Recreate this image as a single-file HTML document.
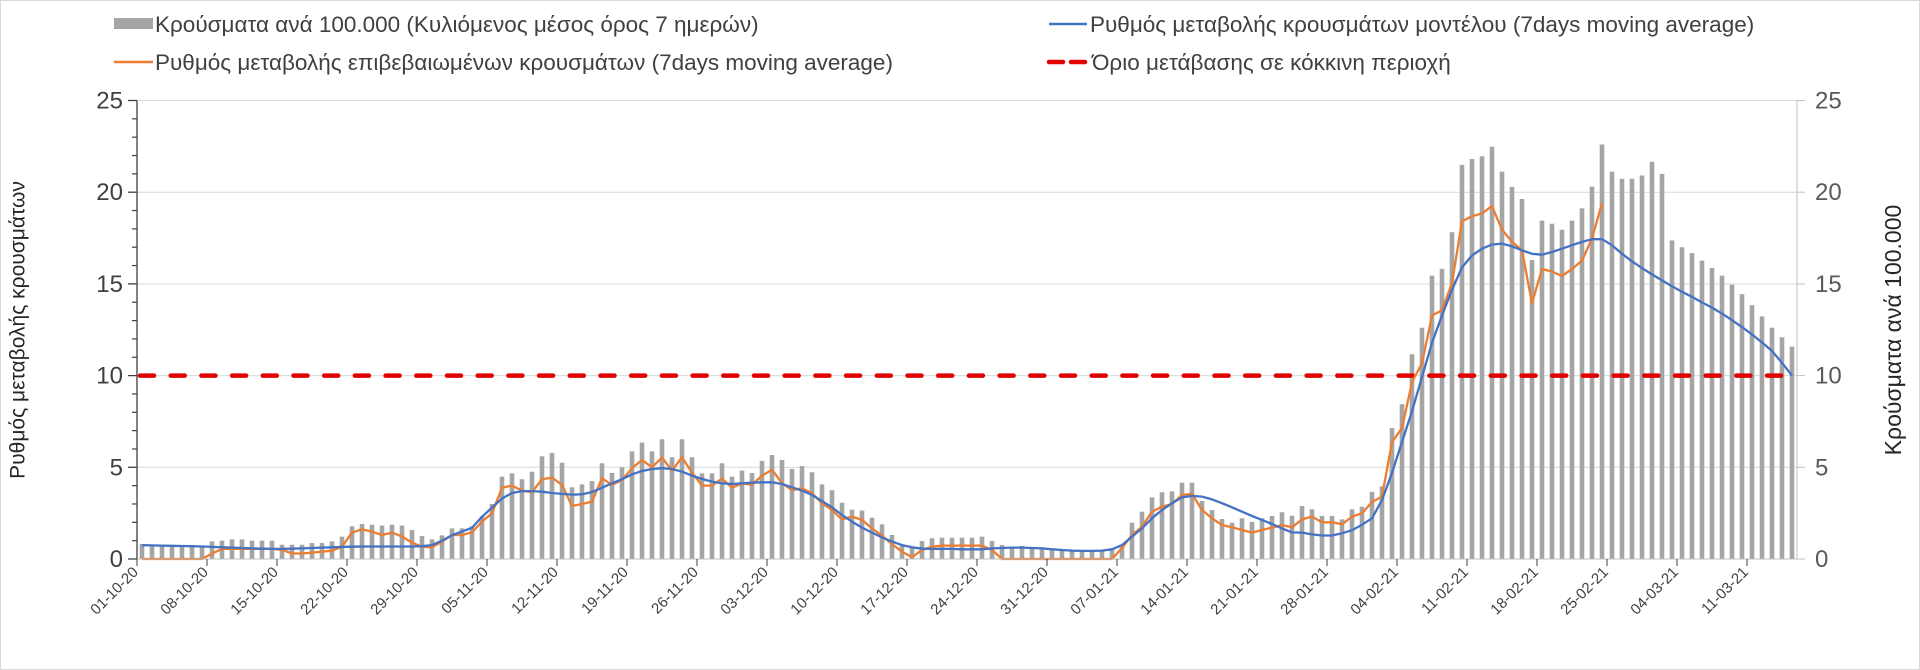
<!DOCTYPE html>
<html><head><meta charset="utf-8"><style>
html,body{margin:0;padding:0;background:#fff;}
svg{display:block;font-family:"Liberation Sans",sans-serif;}
</style></head><body>
<svg id="chart" width="1920" height="670" viewBox="0 0 1920 670" xmlns="http://www.w3.org/2000/svg">
<rect x="0.5" y="0.5" width="1919" height="669" fill="#fff" stroke="#d9d9d9"/>
<g id="grid"></g>
<g id="bars"></g>
<g id="lines"></g>
<g id="axes"></g>
<text x="18" y="330" transform="rotate(-90 18 330)" text-anchor="middle" dominant-baseline="central" font-size="21" fill="#262626">Ρυθμός μεταβολής κρουσμάτων</text>
<text x="1893" y="330" transform="rotate(-90 1893 330)" text-anchor="middle" dominant-baseline="central" font-size="23" fill="#262626">Κρούσματα ανά 100.000</text>
<g font-size="22.5" fill="#404040">
 <g><rect x="114" y="18" width="39" height="11" fill="#a5a5a5"/><text x="155" y="32" fill="#404040">Κρούσματα ανά 100.000 (Κυλιόμενος μέσος όρος 7 ημερών)</text></g>
 <g><line x1="114" y1="62" x2="153" y2="62" stroke="#ed7d31" stroke-width="2.5"/><text x="155" y="70" fill="#404040">Ρυθμός μεταβολής επιβεβαιωμένων κρουσμάτων (7days moving average)</text></g>
 <g><line x1="1049" y1="24" x2="1087" y2="24" stroke="#4472c4" stroke-width="2.5"/><text x="1090" y="32" fill="#404040">Ρυθμός μεταβολής κρουσμάτων μοντέλου (7days moving average)</text></g>
 <g><line x1="1049" y1="62" x2="1087" y2="62" stroke="#e00000" stroke-width="4.5" stroke-dasharray="14 8" stroke-linecap="round"/><text x="1092" y="70" fill="#404040">Όριο μετάβασης σε κόκκινη περιοχή</text></g>
</g>
</svg>
<script>
const dateLabels = ["01-10-20","08-10-20","15-10-20","22-10-20","29-10-20","05-11-20","12-11-20","19-11-20","26-11-20","03-12-20","10-12-20","17-12-20","24-12-20","31-12-20","07-01-21","14-01-21","21-01-21","28-01-21","04-02-21","11-02-21","18-02-21","25-02-21","04-03-21","11-03-21"];
const yTicks = [0,5,10,15,20,25];
const threshold = 10;
const cases = [0.82,0.76,0.76,0.76,0.76,0.73,0.73,0.96,1.0,1.07,1.07,1.0,1.0,1.0,0.78,0.78,0.78,0.87,0.87,0.96,1.22,1.78,1.91,1.87,1.82,1.87,1.82,1.58,1.25,1.07,1.29,1.67,1.67,1.78,2.33,3.0,4.49,4.67,4.35,4.76,5.6,
5.78,5.25,3.91,4.07,4.25,5.22,4.69,5.0,5.87,6.35,5.87,6.53,5.55,6.53,5.55,4.67,4.67,5.22,4.49,4.82,4.69,5.35,5.67,5.4,4.91,5.07,4.73,4.07,3.75,3.07,2.69,2.64,2.25,1.89,1.31,0.76,0.67,0.98,1.13,1.16,1.16,
1.16,1.16,1.22,0.98,0.76,0.67,0.71,0.64,0.64,0.53,0.49,0.49,0.49,0.45,0.49,0.58,0.76,1.98,2.58,3.36,3.64,3.69,4.16,4.16,3.16,2.67,2.18,1.98,2.22,2.02,2.22,2.35,2.55,2.36,2.89,2.71,2.35,2.35,2.16,2.71,2.85,
3.66,3.96,7.14,8.44,11.16,12.61,15.45,15.82,17.82,21.49,21.81,21.96,22.48,21.12,20.29,19.63,16.3,18.45,18.28,17.95,18.45,19.12,20.3,22.6,21.12,20.73,20.73,20.91,21.66,21.0,17.37,17.0,16.68,16.27,15.87,15.45,14.96,14.44,13.84,13.23,12.61,12.09,11.58];
const confirmedRate = [0,0,0,0,0,0,0,0.3,0.55,0.55,0.55,0.55,0.55,0.55,0.5,0.3,0.3,0.35,0.4,0.45,0.67,1.44,1.62,1.49,1.31,1.44,1.22,0.89,0.67,0.64,0.95,1.31,1.31,1.45,2.04,2.49,3.89,4.0,3.73,3.64,4.35,
4.44,4.04,2.89,3.0,3.13,4.4,4.04,4.31,4.95,5.4,5.0,5.53,4.82,5.55,4.71,4.0,4.0,4.38,3.89,4.13,4.04,4.55,4.87,4.13,3.76,3.85,3.58,3.04,2.67,2.16,2.31,2.13,1.67,1.27,0.82,0.4,0.1,0.49,0.67,0.73,0.73,
0.73,0.73,0.73,0.49,0,0,0,0,0,0,0,0,0,0,0,0,0.6,1.31,1.76,2.58,2.85,3.0,3.49,3.55,2.67,2.22,1.85,1.73,1.58,1.44,1.58,1.71,1.85,1.73,2.16,2.31,2.0,2.0,1.89,2.31,2.49,
3.11,3.4,6.38,7.13,9.65,10.67,13.28,13.56,15.05,18.41,18.69,18.84,19.25,17.95,17.3,16.83,13.95,15.81,15.67,15.43,15.81,16.27,17.48,19.4];
const modelRate = [0.75,0.74,0.73,0.72,0.71,0.7,0.68,0.66,0.64,0.62,0.6,0.58,0.56,0.55,0.55,0.56,0.58,0.6,0.62,0.64,0.66,0.67,0.68,0.68,0.68,0.68,0.68,0.68,0.7,0.76,1.0,1.3,1.5,1.7,2.3,2.8,3.3,3.6,3.7,3.7,3.67,
3.6,3.55,3.51,3.53,3.65,3.89,4.13,4.35,4.62,4.8,4.91,4.95,4.91,4.76,4.55,4.36,4.22,4.13,4.09,4.13,4.16,4.18,4.18,4.09,3.91,3.73,3.49,3.16,2.82,2.4,2.04,1.71,1.44,1.18,0.95,0.76,0.64,0.56,0.55,0.55,0.55,
0.53,0.53,0.53,0.58,0.6,0.62,0.62,0.6,0.58,0.53,0.49,0.46,0.44,0.44,0.46,0.53,0.76,1.22,1.67,2.22,2.67,3.04,3.36,3.44,3.4,3.25,3.04,2.82,2.58,2.35,2.13,1.91,1.67,1.45,
1.44,1.34,1.28,1.28,1.40,1.57,1.87,2.22,3.21,4.70,6.38,8.06,9.93,11.79,13.28,14.68,15.9,16.55,16.92,17.15,17.2,17.05,16.83,16.64,16.59,16.74,16.92,17.11,17.29,17.44,17.44,17.11,16.64,16.23,15.86,15.52,15.19,14.87,14.57,14.29,13.99,13.71,13.38,13.02,12.65,12.24,11.81,11.34,10.7,10.0];

const NS = "http://www.w3.org/2000/svg";
const X0 = 137, X1 = 1797, Y0 = 559, Y25 = 100.5, YMAX = 25;
const N = cases.length;
const band = (X1 - X0) / N;
function xC(i){ return X0 + band * (i + 0.5); }
function xB(i){ return X0 + band * i; }
function yS(v){ return Y0 - (Y0 - Y25) * v / YMAX; }
function mk(tag, attrs, parent){ const e = document.createElementNS(NS, tag); for (const k in attrs) e.setAttribute(k, attrs[k]); parent.appendChild(e); return e; }
const grid = document.getElementById('grid'), barsG = document.getElementById('bars'), linesG = document.getElementById('lines'), axes = document.getElementById('axes');

yTicks.forEach(t => {
  if (t > 0) {
    const g = mk('line', {x1:X0, x2:X1, y1:yS(t), y2:yS(t), stroke:'#d9d9d9', 'stroke-width':1}, grid);
    
    
  }
  const l = mk('text', {x:123, y:yS(t)+8, 'text-anchor':'end', 'font-size':24, fill:'#404040'}, axes);
  l.textContent = t;
  
  
  const r = mk('text', {x:1815, y:yS(t)+8, 'text-anchor':'start', 'font-size':24, fill:'#595959'}, axes);
  r.textContent = t;
  
  
  mk('line', {x1:X0-9, x2:X0, y1:yS(t), y2:yS(t), stroke:'#404040', 'stroke-width':1.3}, axes);
  mk('line', {x1:X1, x2:X1+8, y1:yS(t), y2:yS(t), stroke:'#bfbfbf', 'stroke-width':1}, axes);
});
for (let v = 1; v < 25; v++) {
  if (v % 5) mk('line', {x1:X0-5, x2:X0, y1:yS(v), y2:yS(v), stroke:'#404040', 'stroke-width':1.2}, axes);
}

cases.forEach((v, i) => {
  const b = mk('rect', {x:xC(i)-2.3, y:yS(v), width:4.6, height:Y0 - yS(v), fill:'#a5a5a5'}, barsG);
  
  
});

const thr = mk('line', {x1:X0+3, x2:X1-3, y1:yS(threshold), y2:yS(threshold), stroke:'#e00000', 'stroke-width':4.5, 'stroke-dasharray':'14 16.7', 'stroke-linecap':'round'}, linesG);



function pathFor(arr){ return arr.map((v,i)=>(i?'L':'M')+xC(i).toFixed(1)+' '+yS(v).toFixed(1)).join(' '); }
const orange = mk('path', {d:pathFor(confirmedRate), fill:'none', stroke:'#ed7d31', 'stroke-width':2.3, 'stroke-linejoin':'round'}, linesG);


const blue = mk('path', {d:pathFor(modelRate), fill:'none', stroke:'#4472c4', 'stroke-width':2.3, 'stroke-linejoin':'round'}, linesG);



mk('line', {x1:X0, x2:X0, y1:Y25, y2:Y0, stroke:'#404040', 'stroke-width':1.3}, axes);
mk('line', {x1:X1, x2:X1, y1:Y25, y2:Y0, stroke:'#bfbfbf', 'stroke-width':1}, axes);
mk('line', {x1:X0, x2:X1, y1:Y0, y2:Y0, stroke:'#bfbfbf', 'stroke-width':1}, axes);

dateLabels.forEach((d, k) => {
  const bx = xB(k * 7);
  mk('line', {x1:bx, x2:bx, y1:Y0, y2:Y0+7, stroke:'#404040', 'stroke-width':1}, axes);
  const t = mk('text', {x:bx+2, y:Y0+14, 'text-anchor':'end', 'font-size':15, fill:'#404040', transform:'rotate(-45 '+(bx+2)+' '+(Y0+14)+')'}, axes);
  t.textContent = d;
  
  
});
</script>
</body></html>
